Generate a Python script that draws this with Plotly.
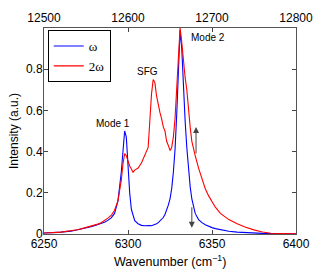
import plotly.graph_objects as go

wavenumber = [6250, 6252, 6254, 6256, 6258, 6260, 6262, 6264, 6266, 6268, 6270, 6272, 6274, 6276, 6278,
              6280, 6282, 6284, 6286, 6288, 6290, 6292, 6294, 6296, 6297, 6298, 6299, 6300, 6301, 6302,
              6303, 6304, 6306, 6308, 6310, 6312, 6313, 6314, 6315, 6316, 6317, 6318, 6319, 6320, 6321,
              6322, 6323, 6324, 6325, 6326, 6327, 6328, 6329, 6330, 6331, 6332, 6333, 6334, 6335, 6336,
              6337, 6338, 6339, 6340, 6342, 6344, 6346, 6348, 6350, 6352, 6355, 6360, 6365, 6370, 6375,
              6380, 6385, 6390, 6395, 6400]

omega = [0.005, 0.005, 0.006, 0.007, 0.008, 0.009, 0.010, 0.012, 0.014, 0.017, 0.020, 0.023, 0.027, 0.031, 0.035,
         0.040, 0.045, 0.050, 0.057, 0.066, 0.078, 0.100, 0.160, 0.300, 0.420, 0.500, 0.470, 0.330, 0.200, 0.120,
         0.085, 0.065, 0.050, 0.042, 0.040, 0.042, 0.041, 0.040, 0.043, 0.045, 0.050, 0.055, 0.062, 0.070, 0.080,
         0.095, 0.115, 0.140, 0.170, 0.220, 0.300, 0.410, 0.580, 0.800, 0.990, 0.900, 0.700, 0.550, 0.420, 0.310,
         0.230, 0.170, 0.130, 0.100, 0.070, 0.055, 0.045, 0.037, 0.031, 0.026, 0.020, 0.013, 0.009, 0.006, 0.004,
         0.003, 0.002, 0.002, 0.001, 0.001]

two_omega = [0.005, 0.005, 0.006, 0.007, 0.008, 0.009, 0.011, 0.013, 0.015, 0.018, 0.021, 0.025, 0.029, 0.033, 0.038,
             0.043, 0.048, 0.055, 0.065, 0.077, 0.090, 0.115, 0.160, 0.260, 0.340, 0.390, 0.380, 0.350, 0.330, 0.315,
             0.300, 0.310, 0.320, 0.345, 0.380, 0.420, 0.550, 0.680, 0.750, 0.735, 0.670, 0.620, 0.590, 0.560, 0.520,
             0.500, 0.450, 0.430, 0.405, 0.420, 0.470, 0.560, 0.720, 0.880, 1.000, 0.930, 0.830, 0.760, 0.700, 0.600,
             0.520, 0.450, 0.410, 0.380, 0.320, 0.270, 0.220, 0.185, 0.155, 0.130, 0.100, 0.070, 0.050, 0.033, 0.020,
             0.010, 0.004, 0.002, 0.001, 0.001]

bottom_ticks = [6250, 6300, 6350, 6400]
top_ticks = [12500, 12600, 12700, 12800]
top_tick_labels = ["12500", "12600", "12700", "12800"]
y_ticks = [0, 0.2, 0.4, 0.6, 0.8]
y_tick_labels = ["0", "0.2", "0.4", "0.6", "0.8"]

labels = [("Mode 1", 6291, 0.537), ("SFG", 6311.7, 0.79), ("Mode 2", 6347.4, 0.956)]
arrows = [(6340.5, 0.385, 0.52), (6338, 0.137, 0.03)]

font = "Liberation Sans, Arial, sans-serif"
axcol = "#555555"

fig = go.Figure()
fig.add_trace(go.Scatter(x=wavenumber, y=omega, mode="lines", name="ω",
                         line=dict(color="#0000ff", width=1.1)))
fig.add_trace(go.Scatter(x=wavenumber, y=two_omega, mode="lines", name="2ω",
                         line=dict(color="#ff0000", width=1.1)))
# invisible trace to activate top axis
fig.add_trace(go.Scatter(x=[2 * wavenumber[0], 2 * wavenumber[-1]], y=[0, 0], xaxis="x2",
                         mode="lines", line=dict(width=0), opacity=0, showlegend=False, hoverinfo="skip"))

for text, x, y in labels:
    fig.add_annotation(x=x, y=y, text=text, showarrow=False, xref="x", yref="y",
                       font=dict(family=font, size=10, color="black"))

for x, y0, y1 in arrows:
    fig.add_annotation(x=x, y=y1, ax=x, ay=y0, xref="x", yref="y", axref="x", ayref="y",
                       text="", showarrow=True, arrowhead=2, arrowsize=1.2, arrowwidth=1,
                       arrowcolor="#444444")

# x-axis title as annotation, placed like the reference
fig.add_annotation(x=0.5, y=-0.131, xref="paper", yref="paper", xanchor="center", yanchor="middle",
                   text="Wavenumber (cm<sup>−1</sup>)", showarrow=False,
                   font=dict(family=font, size=12.5, color="black"))

fig.update_layout(
    width=327, height=274,
    margin=dict(l=44, r=31, t=28, b=40),
    plot_bgcolor="white", paper_bgcolor="white",
    font=dict(family=font, size=12, color="black"),
    showlegend=True,
    legend=dict(x=0.015, y=0.99, xanchor="left", yanchor="top", bgcolor="white",
                bordercolor="black", borderwidth=1,
                font=dict(family="Liberation Serif, Times New Roman, serif", size=13),
                tracegroupgap=0, itemwidth=30),
    xaxis=dict(range=[6250, 6400], tickvals=bottom_ticks, ticks="inside", ticklen=4,
               showline=True, linecolor=axcol, linewidth=1, showgrid=False, zeroline=False,
               ticklabelstandoff=-1, tickfont=dict(size=12)),
    xaxis2=dict(range=[12500, 12800], tickvals=top_ticks, ticktext=top_tick_labels,
                overlaying="x", side="top",
                ticks="inside", ticklen=4, showline=True, linecolor=axcol, linewidth=1,
                showgrid=False, zeroline=False, tickfont=dict(size=12)),
    yaxis=dict(range=[0, 1.0], tickvals=y_ticks, ticktext=y_tick_labels, ticks="inside", ticklen=4,
               showline=True, linecolor=axcol, linewidth=1, mirror="ticks", showgrid=False,
               zeroline=False, ticklabelstandoff=-2,
               title=dict(text="Intensity (a.u.)", font=dict(size=12), standoff=4),
               tickfont=dict(size=12)),
)

fig.write_html("out.html", config={"displayModeBar": False},
               post_script="document.body.style.margin='0';document.body.style.overflow='hidden';")
